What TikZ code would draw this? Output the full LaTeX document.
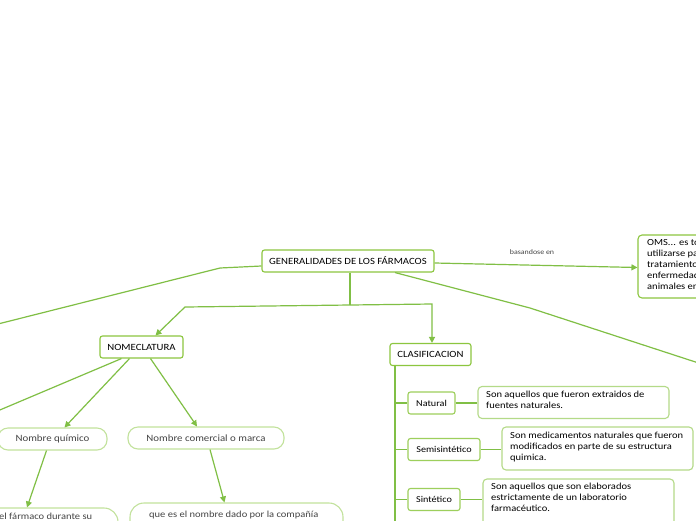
\documentclass[tikz,border=0pt]{standalone}
\usepackage{fontspec}
\setmainfont[FakeStretch=1.13]{Carlito}
\usetikzlibrary{arrows.meta}
\definecolor{lineg}{HTML}{80BF45}
\definecolor{boxg}{HTML}{8CC63F}
\definecolor{lightg}{HTML}{C2E29C}
\definecolor{descg}{HTML}{B4DA88}
\definecolor{txtg}{HTML}{444444}
\tikzset{
  conn/.style={draw=lineg, line width=1.2pt},
  arr/.style={conn, -{Triangle[length=6pt,width=6pt]}},
  mainbox/.style={draw=boxg, line width=1.1pt, rounded corners=2.5pt, fill=white, inner sep=0pt, font=\fontsize{9.5}{10}\selectfont, text=black},
  childbox/.style={mainbox, draw=boxg!85, font=\fontsize{9}{10}\selectfont},
  pill/.style={draw=lightg, line width=1.1pt, rounded corners=10pt, fill=white, inner sep=0pt, font=\fontsize{9.6}{11}\selectfont, text=txtg},
  descbox/.style={draw=descg, line width=1.1pt, rounded corners=4pt, fill=white, inner sep=0pt},
  desctext/.style={inner sep=0pt, align=left, font=\fontsize{9.3}{11}\selectfont, text=black},
  lbl/.style={inner sep=0pt, font=\fontsize{7}{8}\selectfont, text=txtg}
}
\begin{document}
\begin{tikzpicture}[x=1pt,y=-1pt]
\useasboundingbox (0,0) rectangle (696,520);
\clip (0,0) rectangle (696,520);
\fill[white] (0,0) rectangle (696,520);

% off-page ends
\coordinate (offL) at (-10,326);
\coordinate (offR) at (720,370);
\coordinate (offL2) at (-12,415);
\coordinate (j) at (350,305);

% main boxes
\node[mainbox, minimum width=172pt, minimum height=22pt] (root) at (348,261) {GENERALIDADES DE LOS FÁRMACOS};
\node[descbox, draw=boxg, rounded corners=4pt, minimum width=82pt, minimum height=63pt] (oms) at (679,266.5) {};
\node[desctext, anchor=north west] (omst) at (647,239.5) {OMS... es to\\utilizarse pa\\tratamiento\\enfermedad\\animales en};
\node[lbl] (bas) at (532,252) {basandose en};

\node[mainbox, minimum width=83pt, minimum height=22pt] (nom) at (141.5,347) {NOMECLATURA};
\node[mainbox, minimum width=81pt, minimum height=22pt] (clas) at (430.5,354.5) {CLASIFICACION};

\node[pill, minimum width=109pt, minimum height=22pt] (quim) at (52.5,439) {Nombre químico};
\node[pill, minimum width=156pt, minimum height=22pt] (com) at (206,438) {Nombre comercial o marca};

\node[pill, minimum width=178pt, minimum height=52pt, rounded corners=14pt] (bl) at (29,534) {};
\node[desctext, anchor=west, text=txtg] (blt) at (-1,516.5) {el fármaco durante su};
\node[pill, minimum width=213pt, minimum height=54pt, rounded corners=14pt] (br) at (236.5,530) {};
\node[desctext, anchor=west, text=txtg] (brt) at (149,515.5) {que es el nombre dado por la compañía};

% classification children
\node[childbox, minimum width=47pt, minimum height=22pt] (nat) at (431.5,403) {Natural};
\node[childbox, minimum width=72pt, minimum height=22pt] (semi) at (444,449.5) {Semisintético};
\node[childbox, minimum width=52pt, minimum height=22pt] (sint) at (434,499.5) {Sintético};

\node[descbox, minimum width=191pt, minimum height=32pt] (nd) at (573.5,402.5) {};
\node[desctext, anchor=north west] (ndt) at (486,391) {Son aquellos que fueron extraidos de\\fuentes naturales.};
\node[descbox, minimum width=191pt, minimum height=43pt] (sd) at (597.5,448.5) {};
\node[desctext, anchor=north west] (sdt) at (510,431.5) {Son medicamentos naturales que fueron\\modificados en parte de su estructura\\quimica.};
\node[descbox, minimum width=191pt, minimum height=61pt] (std) at (578.5,509.5) {};
\node[desctext, anchor=north west] (stdt) at (491,483) {Son aquellos que son elaborados\\estrictamente de un laboratorio\\farmacéutico.};

% connectors from root
\draw[arr] ([yshift=-2pt]root.east) -- ([yshift=-1pt]oms.west);
\draw[conn] ([yshift=-5pt]root.west) -- (220,268) -- (offL);
\draw[conn] ([xshift=47pt]root.south) -- (530,308) -- (offR);
\draw[conn] ([xshift=2pt]root.south) -- (j);
\draw[arr] (j) -- (185,307) -- ([xshift=14pt]nom.north);
\draw[arr] (j) -- (432,304) -- ([xshift=1.5pt]clas.north);

% nomeclatura
\draw[conn] ([xshift=-20pt]nom.south) -- (offL2);
\draw[arr] ([xshift=-12pt]nom.south) -- ([xshift=12pt]quim.north);
\draw[arr] ([xshift=9pt]nom.south) -- ([xshift=-9pt]com.north);
\draw[arr] ([xshift=-6pt]quim.south) -- ([xshift=-2pt]bl.north);
\draw[arr] ([xshift=4pt]com.south) -- ([xshift=-12pt]br.north);

% classification spine
\coordinate (sp) at ([xshift=-35.5pt]clas.south);
\draw[conn] (sp) -- (sp |- 0,530);
\draw[conn] (sp |- nat.west) -- (nat.west);
\draw[conn] (sp |- semi.west) -- (semi.west);
\draw[conn] (sp |- sint.west) -- (sint.west);
\draw[conn] (nat.east) -- (nat.east -| nd.west);
\draw[conn] (semi.east) -- (semi.east -| sd.west);
\draw[conn] (sint.east) -- (sint.east -| std.west);
\end{tikzpicture}
\end{document}
